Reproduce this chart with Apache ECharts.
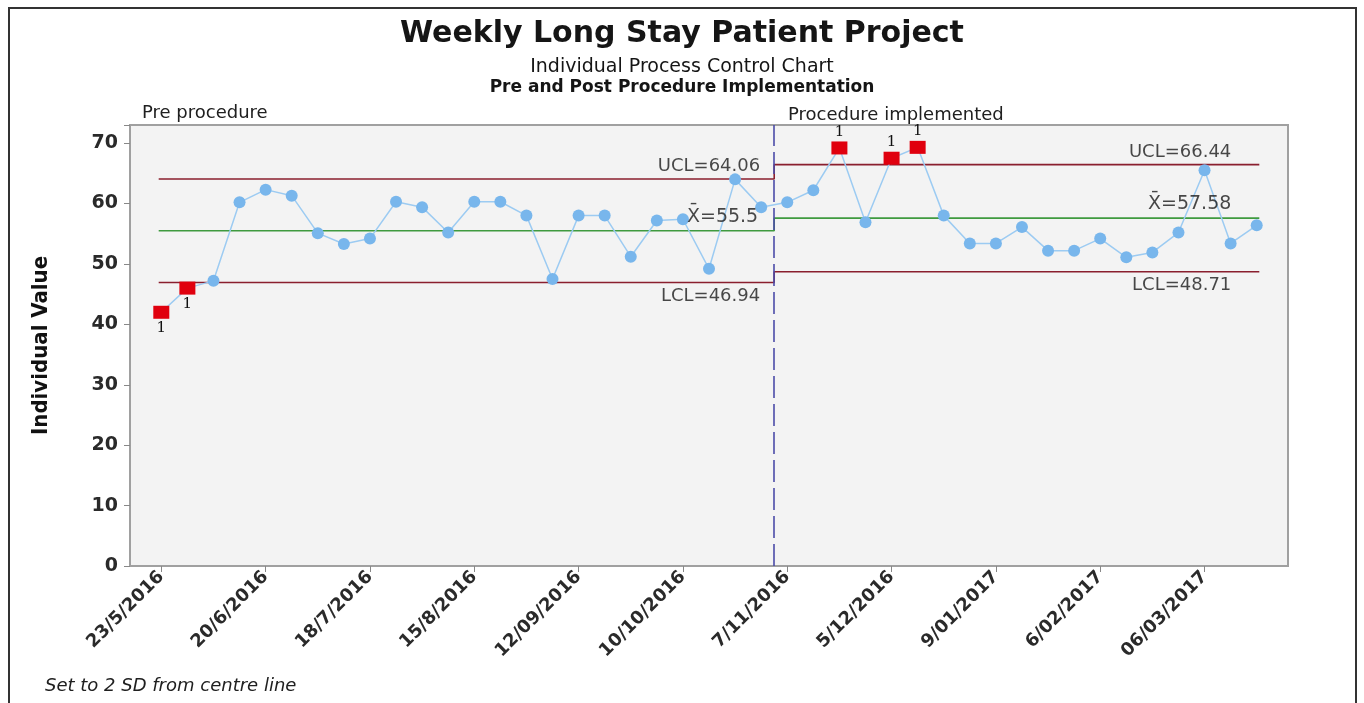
<!DOCTYPE html>
<html>
<head>
<meta charset="UTF-8">
<script type="text/javascript" src="https://cdn.jsdelivr.net/npm/echarts@6.0.0/dist/echarts.min.js"></script>
<title>Weekly Long Stay Patient Project</title>
<style>
  html, body { margin: 0; padding: 0; background: #fff; }
</style>
</head>
<body>
<div id="main" style="width:1364px;height:703px"></div>
<script type="text/javascript">
// weekly dates (one week missing over Christmas)
var weeks = ['23/5/2016','30/5/2016','6/6/2016','13/6/2016','20/6/2016','27/6/2016','4/7/2016','11/7/2016',
    '18/7/2016','25/7/2016','1/8/2016','8/8/2016','15/8/2016','22/8/2016','29/8/2016','5/9/2016',
    '12/09/2016','19/9/2016','26/9/2016','3/10/2016','10/10/2016','17/10/2016','24/10/2016','31/10/2016',
    '7/11/2016','14/11/2016','21/11/2016','28/11/2016','5/12/2016','12/12/2016','19/12/2016','2/01/2017',
    '9/01/2017','16/01/2017','23/01/2017','30/01/2017','6/02/2017','13/02/2017','20/02/2017','27/02/2017',
    '06/03/2017','13/03/2017','20/03/2017'];
var preValues = [42.0, 46.0, 47.2, 60.2, 62.3, 61.3, 55.1, 53.3, 54.2, 60.3, 59.4, 55.2,
    60.3, 60.3, 58.0, 47.5, 58.0, 58.0, 51.2, 57.2, 57.4, 49.2, 64.0, 59.4];
var postValues = [60.2, 62.2, 69.2, 56.9, 67.5, 69.3, 58.0, 53.4, 53.4, 56.1, 52.2, 52.2,
    54.2, 51.1, 51.9, 55.2, 65.5, 53.4, 56.4];
// control limits per phase [pre, post]
var ucl = [64.06, 66.44];
var centre = [55.5, 57.58];
var lcl = [46.94, 48.71];
var labelWeeks = [0, 4, 8, 12, 16, 20, 24, 28, 32, 36, 40];

var splitAt = preValues.length - 0.5;
var xStart = -0.1, xEnd = preValues.length + postValues.length - 0.9;

var allValues = preValues.concat(postValues);
var points = [], flagged = [];
for (var i = 0; i < allValues.length; i++) {
    var ph = i < preValues.length ? 0 : 1;
    points.push([i, allValues[i]]);
    if (allValues[i] > ucl[ph] || allValues[i] < lcl[ph]) {
        flagged.push({
            value: [i, allValues[i]],
            label: { position: allValues[i] < lcl[ph] ? 'bottom' : 'top' }
        });
    }
}

function stepLine(lim) {
    return [[xStart, lim[0]], [splitAt, lim[0]], [splitAt, lim[1]], [xEnd, lim[1]]];
}

var limitLabels = [
    { value: [splitAt, ucl[0]], name: 'UCL=' + ucl[0].toFixed(2), label: { position: 'top', offset: [-14, 0] } },
    { value: [splitAt, centre[0]], name: 'X\u0304=' + centre[0], label: { position: 'top', offset: [-16, -1], fontSize: 19 } },
    { value: [splitAt, lcl[0]], name: 'LCL=' + lcl[0].toFixed(2), label: { position: 'bottom', offset: [-14, 1] } },
    { value: [xEnd, ucl[1]], name: 'UCL=' + ucl[1].toFixed(2), label: { position: 'top', offset: [-28, 0] } },
    { value: [xEnd, centre[1]], name: 'X\u0304=' + centre[1], label: { position: 'top', offset: [-28, -1], fontSize: 19 } },
    { value: [xEnd, lcl[1]], name: 'LCL=' + lcl[1].toFixed(2), label: { position: 'bottom', offset: [-28, 1] } }
];

var font = "'DejaVu Sans', Verdana, sans-serif";
var myChart = echarts.init(document.getElementById('main'));

var option = {
    backgroundColor: '#ffffff',
    animation: false,
    title: [
        { text: 'Weekly Long Stay Patient Project', left: 'center', top: 14,
          textStyle: { fontFamily: font, fontSize: 30, fontWeight: 'bold', color: '#151515' } },
        { text: 'Individual Process Control Chart', left: 'center', top: 53,
          textStyle: { fontFamily: font, fontSize: 19, fontWeight: 'normal', color: '#151515' } },
        { text: 'Pre and Post Procedure Implementation', left: 'center', top: 74,
          textStyle: { fontFamily: font, fontSize: 17, fontWeight: 'bold', color: '#151515' } },
        { text: 'Pre procedure', left: 137, top: 99,
          textStyle: { fontFamily: font, fontSize: 18, fontWeight: 'normal', color: '#202020' } },
        { text: 'Procedure implemented', left: 783, top: 101,
          textStyle: { fontFamily: font, fontSize: 18, fontWeight: 'normal', color: '#202020' } },
        { text: 'Set to 2 SD from centre line', left: 40, top: 672,
          textStyle: { fontFamily: font, fontSize: 18, fontWeight: 'normal', fontStyle: 'italic', color: '#202020' } }
    ],
    graphic: [{
        type: 'rect',
        shape: { x: 9, y: 8, width: 1347, height: 700 },
        style: { fill: 'none', stroke: '#333', lineWidth: 2 },
        silent: true
    }],
    grid: {
        left: 130, right: 76, top: 125, bottom: 137,
        show: true, backgroundColor: '#f3f3f3', borderColor: '#a0a0a0', borderWidth: 2
    },
    xAxis: {
        type: 'value',
        min: xStart - 1.1, max: xEnd + 1.1,
        splitLine: { show: false },
        axisLine: { show: false, onZero: false },
        axisTick: { show: true, customValues: labelWeeks, length: 6, lineStyle: { color: '#888' } },
        axisLabel: {
            customValues: labelWeeks,
            rotate: 45, margin: 8,
            fontFamily: font, fontSize: 18, fontWeight: 'bold', color: '#2a2a2a',
            formatter: function (v) { return weeks[Math.round(v)]; }
        }
    },
    yAxis: {
        type: 'value',
        min: 0, max: 73, interval: 10,
        name: 'Individual Value',
        nameLocation: 'middle', nameGap: 78,
        nameTextStyle: { fontFamily: "'Liberation Sans Narrow', 'DejaVu Sans Condensed', sans-serif",
            fontSize: 22, fontWeight: 'bold', color: '#111' },
        splitLine: { show: false },
        axisLine: { show: false, onZero: false },
        axisTick: { show: true, length: 6, lineStyle: { color: '#888' } },
        axisLabel: {
            margin: 12, fontFamily: font, fontSize: 19, fontWeight: 'bold', color: '#2a2a2a',
            formatter: function (v) { return v % 10 === 0 ? v : ''; }
        }
    },
    series: [
        {
            name: 'UCL', type: 'line', data: stepLine(ucl), symbol: 'none', silent: true,
            lineStyle: { color: '#8a1f2e', width: 1.6 }, z: 2
        },
        {
            name: 'Centre', type: 'line', data: stepLine(centre), symbol: 'none', silent: true,
            lineStyle: { color: '#3f9a3f', width: 1.6 }, z: 2
        },
        {
            name: 'LCL', type: 'line', data: stepLine(lcl), symbol: 'none', silent: true,
            lineStyle: { color: '#8a1f2e', width: 1.6 }, z: 2
        },
        {
            name: 'Individual Value', type: 'line', data: points,
            symbol: 'circle', symbolSize: 12,
            itemStyle: { color: '#78b6ec' },
            lineStyle: { color: '#9ccbf2', width: 1.5 },
            markLine: {
                silent: true, symbol: 'none', label: { show: false },
                lineStyle: { color: '#4b4ba8', type: [22, 6], width: 1.6 },
                data: [{ xAxis: splitAt }]
            },
            z: 3
        },
        {
            name: 'Out of control', type: 'scatter', data: flagged,
            symbol: 'rect', symbolSize: [16, 13],
            itemStyle: { color: '#e0000e', opacity: 1 },
            label: { show: true, formatter: '1', distance: 2, fontFamily: 'DejaVu Serif, serif', fontSize: 15, color: '#111' },
            z: 4
        },
        {
            name: 'Limit labels', type: 'scatter', data: limitLabels,
            symbolSize: 1, itemStyle: { color: 'rgba(0,0,0,0)' }, silent: true,
            label: {
                show: true, align: 'right', distance: 3,
                fontFamily: font, fontSize: 18, color: '#1a1a1a',
                formatter: function (p) { return p.name; }
            },
            z: 5
        }
    ]
};

myChart.setOption(option);
</script>
</body>
</html>
